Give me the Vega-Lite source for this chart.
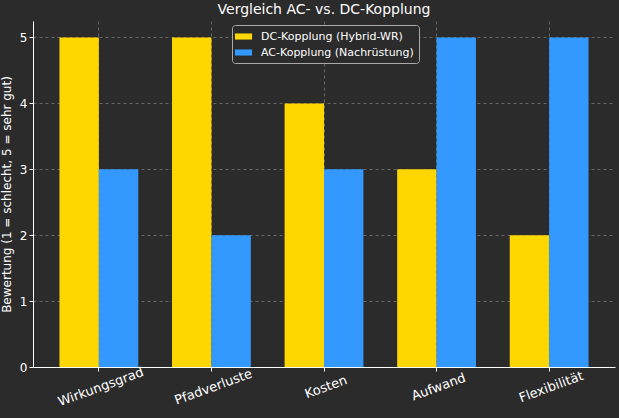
{
  "$schema": "https://vega.github.io/schema/vega-lite/v6.json",
  "width": 582,
  "height": 346,
  "autosize": {"type": "none"},
  "padding": {"left": 33, "top": 21, "right": 4, "bottom": 51},
  "background": "#2b2b2b",
  "config": {
    "view": {"stroke": null},
    "font": "DejaVu Sans",
    "axis": {
      "labelColor": "#ffffff",
      "titleColor": "#ffffff",
      "domainColor": "#ffffff",
      "tickColor": "#ffffff",
      "labelFont": "DejaVu Sans",
      "titleFont": "DejaVu Sans",
      "labelFontSize": 12,
      "titleFontSize": 12,
      "titleFontWeight": "normal",
      "gridColor": "#777777",
      "gridDash": [3, 3],
      "gridWidth": 0.8,
      "tickSize": 4
    }
  },
  "title": {
    "text": "Vergleich AC- vs. DC-Kopplung",
    "color": "#ffffff",
    "font": "DejaVu Sans",
    "fontSize": 14,
    "fontWeight": "normal",
    "offset": 4
  },
  "data": {
    "values": [
      {"kriterium": "Wirkungsgrad", "variante": "DC-Kopplung (Hybrid-WR)", "wert": 5},
      {"kriterium": "Wirkungsgrad", "variante": "AC-Kopplung (Nachrüstung)", "wert": 3},
      {"kriterium": "Pfadverluste", "variante": "DC-Kopplung (Hybrid-WR)", "wert": 5},
      {"kriterium": "Pfadverluste", "variante": "AC-Kopplung (Nachrüstung)", "wert": 2},
      {"kriterium": "Kosten", "variante": "DC-Kopplung (Hybrid-WR)", "wert": 4},
      {"kriterium": "Kosten", "variante": "AC-Kopplung (Nachrüstung)", "wert": 3},
      {"kriterium": "Aufwand", "variante": "DC-Kopplung (Hybrid-WR)", "wert": 3},
      {"kriterium": "Aufwand", "variante": "AC-Kopplung (Nachrüstung)", "wert": 5},
      {"kriterium": "Flexibilität", "variante": "DC-Kopplung (Hybrid-WR)", "wert": 2},
      {"kriterium": "Flexibilität", "variante": "AC-Kopplung (Nachrüstung)", "wert": 5}
    ]
  },
  "mark": {"type": "bar"},
  "encoding": {
    "x": {
      "field": "kriterium",
      "type": "nominal",
      "sort": null,
      "scale": {"paddingInner": 0.3, "paddingOuter": 0.235},
      "axis": {
        "title": null,
        "labelAngle": -20,
        "labelAlign": "center",
        "labelBaseline": "top",
        "labelPadding": 10,
        "labelFontSize": 13,
        "grid": true
      }
    },
    "xOffset": {
      "field": "variante",
      "type": "nominal",
      "sort": ["DC-Kopplung (Hybrid-WR)", "AC-Kopplung (Nachrüstung)"],
      "scale": {"paddingInner": 0, "paddingOuter": 0}
    },
    "y": {
      "field": "wert",
      "type": "quantitative",
      "scale": {"domain": [0, 5.25], "nice": false},
      "axis": {
        "title": "Bewertung (1 = schlecht, 5 = sehr gut)",
        "values": [0, 1, 2, 3, 4, 5],
        "grid": true,
        "titlePadding": 6
      }
    },
    "color": {
      "field": "variante",
      "type": "nominal",
      "sort": ["DC-Kopplung (Hybrid-WR)", "AC-Kopplung (Nachrüstung)"],
      "scale": {"range": ["#FFD700", "#3399FF"]},
      "legend": {
        "title": null,
        "orient": "none",
        "legendX": 199,
        "legendY": 4,
        "symbolType": "M-1.4,-0.5H1.4V0.5H-1.4Z",
        "symbolSize": 150,
        "symbolStrokeWidth": 0,
        "labelColor": "#ffffff",
        "labelFontSize": 11,
        "labelFont": "DejaVu Sans",
        "fillColor": "#2b2b2b",
        "strokeColor": "#aaaaaa",
        "padding": 5,
        "cornerRadius": 3,
        "rowPadding": 4,
        "labelOffset": 11
      }
    }
  }
}
